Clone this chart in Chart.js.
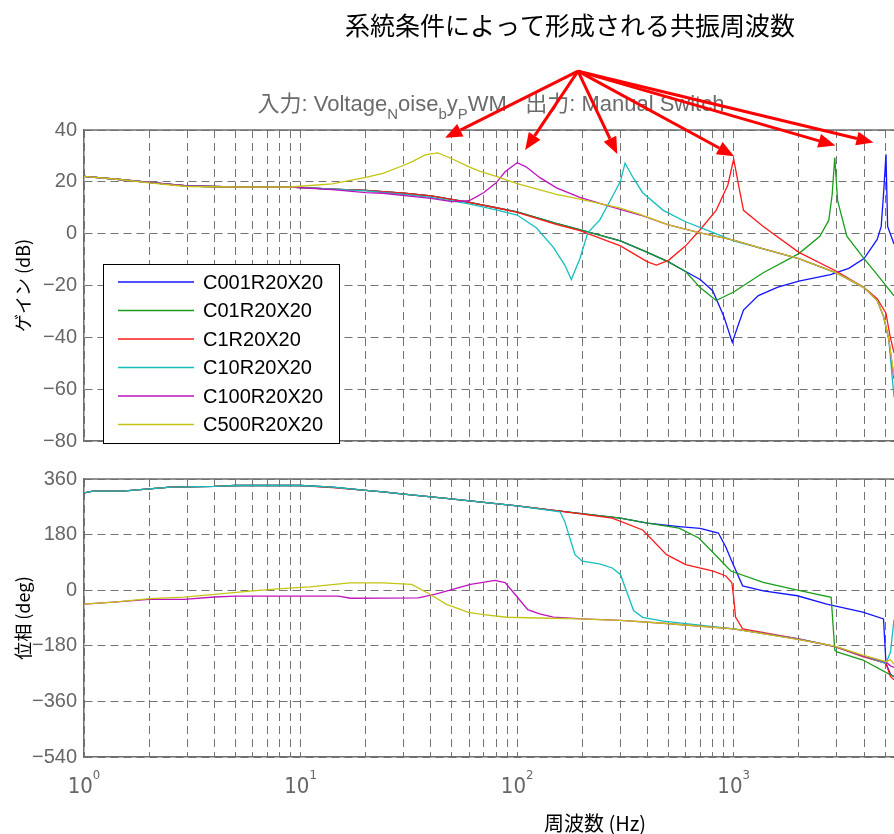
<!DOCTYPE html>
<html lang="ja">
<head>
<meta charset="UTF-8">
<title>共振周波数</title>
<script src="https://cdn.jsdelivr.net/npm/chart.js"></script>
<style>
  html, body { margin: 0; padding: 0; background: #fff; }
  body { width: 894px; height: 834px; position: relative; overflow: hidden; }
  canvas { position: absolute; left: 0; }
  #gain { top: 0; }
  #phase { top: 460px; }
</style>
</head>
<body>
<canvas id="gain" width="894" height="460"></canvas>
<canvas id="phase" width="894" height="374"></canvas>
<script>
// series
const names = ['C001R20X20', 'C01R20X20', 'C1R20X20', 'C10R20X20', 'C100R20X20', 'C500R20X20'];
const colors = ['#1414ff', '#1a9e1a', '#ff1a1a', '#14bebe', '#be14be', '#c4c414'];

// gain (dB)
const fGainC001 = [1, 1.5, 2, 3, 5, 9, 14, 20, 30, 40, 60, 80, 100, 150, 200, 300, 400, 500, 600, 700, 800, 900, 985, 1110, 1300, 1600, 2000, 2800, 3400, 4000, 4600, 4800, 4920, 5050, 5140, 5500];
const gainC001 = [22.1, 20.8, 19.8, 18.4, 18.0, 18.0, 17.2, 16.7, 15.6, 14.6, 12.1, 10.0, 8.4, 4.1, 1.3, -2.8, -7.2, -10.9, -14.6, -17.7, -22.0, -31.9, -41.9, -29.5, -23.9, -20.6, -18.3, -15.8, -13.4, -9.6, -2.2, 2.8, 15.1, 30.6, 2.8, -4.0];

const fGainC01 = [1, 1.5, 2, 3, 5, 9, 14, 20, 30, 40, 60, 80, 100, 150, 200, 300, 400, 500, 600, 700, 830, 1000, 1370, 2000, 2500, 2750, 2850, 2930, 3020, 3330, 4000, 4600, 5500];
const gainC01 = [22.1, 20.8, 19.8, 18.4, 18.0, 18.0, 17.2, 16.7, 15.6, 14.6, 12.1, 10.0, 8.4, 4.1, 1.3, -2.8, -7.2, -10.9, -14.6, -20.8, -25.8, -22.5, -15.1, -7.7, -1.0, 5.2, 15.1, 29.4, 12.7, -1.0, -9.6, -15.8, -24.0];

const fGainC1 = [1, 1.5, 2, 3, 5, 9, 14, 20, 30, 40, 60, 80, 100, 150, 195, 300, 400, 440, 500, 600, 700, 830, 940, 1000, 1060, 1110, 1370, 2000, 3000, 4000, 4600, 5050, 5270, 5500];
const gainC1 = [22.1, 20.8, 19.8, 18.4, 18.0, 18.0, 17.2, 16.7, 15.6, 14.6, 12.1, 10.0, 8.2, 3.7, 1.2, -4.7, -10.9, -12.1, -10.3, -4.7, 1.5, 9.0, 18.8, 28.8, 17.6, 9.0, 2.8, -7.2, -14.6, -20.8, -25.1, -30.7, -39.4, -46.0];

const fGainC10 = [1, 1.5, 2, 3, 5, 9, 14, 20, 30, 40, 60, 80, 100, 123, 147, 166, 178, 195, 212, 241, 279, 300, 315, 344, 380, 473, 600, 800, 1000, 1370, 2000, 3000, 4000, 4600, 4920, 5200, 5500];
const gainC10 = [22.1, 20.8, 19.8, 18.4, 18.0, 18.0, 17.2, 16.5, 15.2, 14.0, 11.5, 9.2, 7.2, 2.2, -5.3, -12.1, -17.7, -9.6, 0.3, 5.3, 15.2, 20.2, 27.2, 21.5, 15.8, 9.0, 4.6, 0.5, -2.8, -5.9, -9.6, -15.2, -20.8, -25.8, -31.9, -40.6, -63.0];

const fGainC100 = [1, 1.5, 2, 3, 5, 9, 14, 20, 24, 40, 50, 60, 70, 80, 88, 100, 110, 127, 152, 195, 268, 370, 500, 700, 1000, 1370, 2000, 3000, 4000, 4600, 4920, 5200, 5500];
const gainC100 = [22.1, 20.8, 19.8, 18.4, 18.0, 18.0, 17.0, 15.8, 15.6, 13.6, 12.4, 12.7, 15.8, 19.6, 23.9, 27.4, 25.8, 21.7, 17.7, 14.0, 10.5, 7.2, 3.4, 0.3, -2.5, -5.9, -9.6, -15.2, -20.8, -25.8, -31.9, -40.6, -56.0];

const fGainC500 = [1, 1.5, 2, 3, 5, 9, 10, 14, 20, 24, 30, 33, 37.6, 43, 50, 60, 67, 80, 100, 152, 195, 300, 370, 500, 700, 1000, 1370, 2000, 3000, 4000, 4600, 4920, 5200, 5500];
const gainC500 = [22.1, 20.8, 19.6, 18.2, 18.0, 18.0, 18.3, 19.2, 21.7, 23.3, 26.4, 27.9, 30.4, 31.2, 28.9, 25.8, 24.1, 22.1, 19.3, 15.2, 13.3, 9.9, 7.4, 3.4, 0.3, -2.5, -5.9, -9.6, -15.2, -20.8, -25.8, -31.9, -40.6, -55.0];

// phase (deg)
const fPhaseC001 = [1, 1.1, 1.5, 2, 2.5, 4, 5, 10, 14, 20, 24, 30, 47, 100, 158, 300, 400, 560, 700, 850, 920, 980, 1100, 1370, 1970, 2690, 3950, 4920, 5050, 5300, 5500];
const phaseC001 = [315, 321, 321, 328, 334, 336, 339, 339, 334, 323, 318, 311, 297, 273, 256, 233, 217, 206, 200, 185, 140, 94, 14, -2, -18, -45, -71, -93, -237, -272, -280];

const fPhaseC01 = [1, 1.1, 1.5, 2, 2.5, 4, 5, 10, 14, 20, 24, 30, 47, 100, 158, 300, 400, 560, 690, 805, 970, 1370, 1970, 2820, 2930, 3000, 3950, 5300, 5500];
const phaseC01 = [315, 321, 321, 328, 334, 336, 339, 339, 334, 323, 318, 311, 297, 273, 256, 233, 217, 201, 169, 121, 62, 25, 0, -23, -194, -200, -226, -274, -280];

const fPhaseC1 = [1, 1.1, 1.5, 2, 2.5, 4, 5, 10, 14, 20, 24, 30, 47, 100, 158, 275, 380, 490, 600, 805, 920, 980, 1000, 1020, 1100, 1970, 2930, 3950, 5050, 5300, 5500];
const phaseC1 = [315, 321, 321, 328, 334, 336, 339, 339, 332, 323, 318, 311, 297, 273, 256, 233, 195, 115, 83, 62, 46, 25, -23, -87, -125, -157, -183, -215, -237, -280, -290];

const fPhaseC10 = [1, 1.1, 1.5, 2, 2.5, 4, 5, 10, 14, 20, 24, 30, 47, 100, 158, 166, 185, 200, 240, 275, 300, 345, 380, 473, 1000, 1970, 2930, 3950, 5050, 5300, 5500];
const phaseC10 = [315, 321, 321, 328, 334, 336, 339, 339, 334, 323, 318, 311, 297, 273, 254, 222, 115, 94, 85, 72, 51, -66, -88, -100, -125, -157, -182, -213, -237, -200, -95];

const fPhaseC100 = [1, 1.42, 2, 2.9, 4, 5, 15, 17, 35, 42, 61, 79, 88, 99, 112, 127, 147, 200, 300, 473, 1000, 1970, 2930, 3950, 5050, 5300, 5500];
const phaseC100 = [-45, -38, -30, -30, -22, -19, -19, -26, -25, -13, 19, 32, 24.5, -18, -63, -77, -87.5, -93, -98, -107, -125, -158, -182, -213, -233, -245, -250];

const fPhaseC500 = [1, 1.42, 2, 2.9, 4, 5.85, 7.8, 11, 16.9, 24, 32.6, 39.6, 47, 59.5, 70, 89.5, 127, 195, 300, 473, 1000, 1970, 2930, 3950, 5050, 5300, 5500];
const phaseC500 = [-45, -38, -27.5, -22.4, -13.8, -3, 4.5, 11, 23.7, 24, 19, -13, -45, -71.5, -79, -87.5, -90, -93, -98, -107, -125, -159, -181, -210, -231, -225, -240];

// axis ticks
const gainTicks = [-80, -60, -40, -20, 0, 20, 40];
const phaseTicks = [-540, -360, -180, 0, 180, 360];
const decadeTicks = [1, 10, 100, 1000];

// arrows: start point and tips (Hz, dB) pointing at the resonances
const arrowFrom = [191, 62.7];
const arrowTips = [[46.5, 37.0], [108.9, 32.3], [290, 30.7], [1005, 29.9], [2950, 34.0], [4420, 35.2]];

const gainSets = [[fGainC001, gainC001], [fGainC01, gainC01], [fGainC1, gainC1], [fGainC10, gainC10], [fGainC100, gainC100], [fGainC500, gainC500]];
const phaseSets = [[fPhaseC001, phaseC001], [fPhaseC01, phaseC01], [fPhaseC1, phaseC1], [fPhaseC10, phaseC10], [fPhaseC100, phaseC100], [fPhaseC500, phaseC500]];

const axisColor = '#6e6e6e';
const gridColor = '#737373';
const tickColor = '#666666';
const latin = '"Liberation Sans", Arial, sans-serif';
const cjk = '"Noto Sans CJK JP", "Liberation Sans", sans-serif';
const mixed = '"Liberation Sans", "Noto Sans CJK JP", sans-serif';
const narrow = '"Liberation Sans Narrow", "DejaVu Sans Condensed", "Liberation Sans", sans-serif';

function makeDatasets(sets) {
    return sets.map(([fs, vs], i) => ({
        label: names[i],
        data: fs.map((f, k) => ({ x: f, y: vs[k] })),
        borderColor: colors[i],
        backgroundColor: colors[i],
        borderWidth: 1.3,
        pointRadius: 0,
        tension: 0,
        order: names.length - i
    }));
}

function isGridFreq(v) {
    const m = v / Math.pow(10, Math.floor(Math.log10(v) + 1e-9));
    return Math.abs(m - Math.round(m)) < 1e-6 && v < 5500;
}

function xScale(h) {
    return {
        type: 'logarithmic', min: 1, max: 5500,
        ticks: { display: false, autoSkip: false },
        grid: { color: gridColor, drawTicks: false },
        border: { color: axisColor, width: 1.5, dash: [8, 5] },
        afterBuildTicks: s => { s.ticks = s.ticks.filter(t => isGridFreq(t.value)); },
        afterFit: s => { s.height = h; }
    };
}

function yScale(list, title) {
    return {
        min: list[0], max: list[list.length - 1],
        afterBuildTicks: s => { s.ticks = list.map(v => ({ value: v })); },
        ticks: {
            color: tickColor, padding: 7,
            font: { size: 20, family: latin },
            callback: v => v < 0 ? '\u2212' + Math.abs(v) : String(v)
        },
        grid: { color: gridColor, drawTicks: false },
        border: { color: axisColor, width: 1.5, dash: [8, 5] },
        title: { display: true, text: title, color: '#000', font: { size: 18, family: cjk }, padding: { top: 12, bottom: 0 } },
        afterFit: s => { s.width = 84; }
    };
}

function arrow(ctx, x0, y0, x1, y1) {
    const a = Math.atan2(y1 - y0, x1 - x0);
    const len = 17, half = 7;
    const bx = x1 - len * Math.cos(a), by = y1 - len * Math.sin(a);
    ctx.beginPath();
    ctx.moveTo(x0, y0);
    ctx.lineTo(bx, by);
    ctx.stroke();
    ctx.beginPath();
    ctx.moveTo(x1, y1);
    ctx.lineTo(bx + half * Math.sin(a), by - half * Math.cos(a));
    ctx.lineTo(bx - half * Math.sin(a), by + half * Math.cos(a));
    ctx.closePath();
    ctx.fill();
}

const gainDecor = {
    id: 'gainDecor',
    afterDraw(chart) {
        const { ctx, chartArea: a, scales: { x, y } } = chart;
        ctx.save();
        // top frame line
        ctx.strokeStyle = axisColor;
        ctx.lineWidth = 1.5;
        ctx.beginPath();
        ctx.moveTo(a.left, a.top);
        ctx.lineTo(a.right, a.top);
        ctx.stroke();

        // title
        ctx.fillStyle = '#000';
        ctx.font = '25px ' + cjk;
        ctx.textAlign = 'center';
        ctx.textBaseline = 'alphabetic';
        ctx.fillText('系統条件によって形成される共振周波数', 570, 35);

        // subtitle with subscripts
        const parts = [['入力: Voltage', 0], ['N', 1], ['oise', 0], ['b', 1], ['y', 0], ['P', 1], ['WM   出力: Manual Switch', 0]];
        const big = '22px ' + mixed, small = '15px ' + mixed;
        let w = 0;
        parts.forEach(([t, s]) => { ctx.font = s ? small : big; w += ctx.measureText(t).width; });
        let px = 491 - w / 2;
        ctx.fillStyle = '#6b6b6b';
        ctx.textAlign = 'left';
        parts.forEach(([t, s]) => {
            ctx.font = s ? small : big;
            ctx.fillText(t, px, s ? 119 : 111);
            px += ctx.measureText(t).width;
        });

        // legend
        const lx = 103, ly = 264, lw = 236, lh = 179;
        ctx.fillStyle = '#fff';
        ctx.fillRect(lx, ly, lw, lh);
        ctx.strokeStyle = '#000';
        ctx.lineWidth = 1;
        ctx.strokeRect(lx + 0.5, ly + 0.5, lw, lh);
        ctx.font = '20px ' + latin;
        ctx.textBaseline = 'middle';
        names.forEach((n, i) => {
            const ry = 282 + i * 28.5;
            ctx.strokeStyle = colors[i];
            ctx.lineWidth = 1.5;
            ctx.beginPath();
            ctx.moveTo(118, ry);
            ctx.lineTo(194, ry);
            ctx.stroke();
            ctx.fillStyle = '#000';
            ctx.fillText(n, 203, ry + 1);
        });

        // red arrows
        ctx.strokeStyle = '#ff0000';
        ctx.fillStyle = '#ff0000';
        ctx.lineWidth = 3;
        const sx = x.getPixelForValue(arrowFrom[0]), sy = y.getPixelForValue(arrowFrom[1]);
        arrowTips.forEach(([f, d]) => arrow(ctx, sx, sy, x.getPixelForValue(f), y.getPixelForValue(d)));
        ctx.restore();
    }
};

const phaseDecor = {
    id: 'phaseDecor',
    afterDraw(chart) {
        const { ctx, chartArea: a, scales: { x } } = chart;
        ctx.save();
        ctx.strokeStyle = axisColor;
        ctx.lineWidth = 1.5;
        ctx.beginPath();
        ctx.moveTo(a.left, a.top);
        ctx.lineTo(a.right, a.top);
        ctx.stroke();

        // decade labels 10^n
        ctx.fillStyle = tickColor;
        ctx.textBaseline = 'alphabetic';
        decadeTicks.forEach(v => {
            const cx = x.getPixelForValue(v);
            const e = String(Math.round(Math.log10(v)));
            ctx.font = '22px ' + narrow;
            const wb = ctx.measureText('10').width;
            ctx.font = '13px ' + narrow;
            const we = ctx.measureText(e).width;
            const left = cx - (wb + we) / 2;
            ctx.font = '22px ' + narrow;
            ctx.textAlign = 'left';
            ctx.fillText('10', left, a.bottom + 36);
            ctx.font = '13px ' + narrow;
            ctx.fillText(e, left + wb, a.bottom + 22);
        });

        ctx.fillStyle = '#000';
        ctx.font = '20px ' + cjk;
        ctx.textAlign = 'center';
        ctx.textBaseline = 'middle';
        ctx.fillText('周波数 (Hz)', 595, 363);
        ctx.restore();
    }
};

function baseOptions(padding, scales) {
    return {
        responsive: false,
        animation: false,
        devicePixelRatio: 1,
        layout: { padding },
        plugins: { legend: { display: false }, tooltip: { enabled: false } },
        scales
    };
}

new Chart(document.getElementById('gain'), {
    type: 'line',
    data: { datasets: makeDatasets(gainSets) },
    options: baseOptions({ top: 130, right: 0, bottom: 8, left: 0 }, {
        x: xScale(0),
        y: yScale(gainTicks, 'ゲイン (dB)')
    }),
    plugins: [gainDecor]
});

new Chart(document.getElementById('phase'), {
    type: 'line',
    data: { datasets: makeDatasets(phaseSets) },
    options: baseOptions({ top: 13, right: 0, bottom: 0, left: 0 }, {
        x: xScale(77),
        y: yScale(phaseTicks, '位相 (deg)')
    }),
    plugins: [phaseDecor]
});
</script>
</body>
</html>
